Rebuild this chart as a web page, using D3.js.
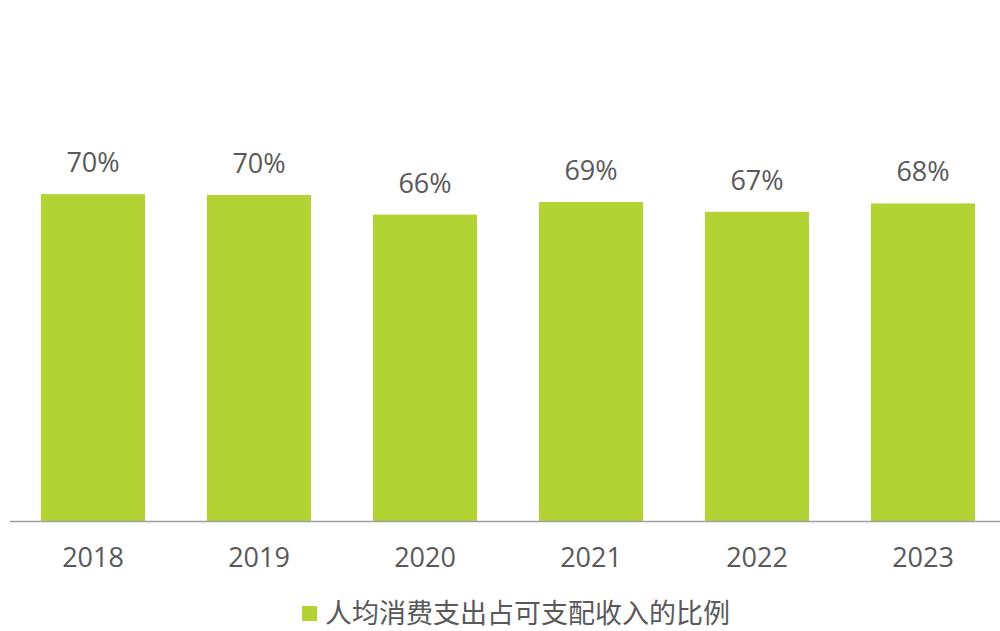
<!DOCTYPE html>
<html>
<head>
<meta charset="utf-8">
<script src="https://cdn.jsdelivr.net/npm/d3@7"></script>
<style>
  body { margin: 0; background: #fff; }
  text { font-family: "Open Sans", "Noto Sans CJK SC", sans-serif; fill: #595959; }
</style>
</head>
<body>
<div id="chart"></div>
<script>
const width = 1000;
const height = 631;

const years = ["2018", "2019", "2020", "2021", "2022", "2023"];
const ratios = [70.3, 70.1, 65.9, 68.6, 66.5, 68.3];
const seriesName = "人均消费支出占可支配收入的比例";

const barColor = "#b3d334";

const svg = d3.select("#chart")
    .append("svg")
    .attr("width", width)
    .attr("height", height);

const x = d3.scaleBand()
    .domain(years)
    .range([10, 1006])
    .paddingInner(0.373)
    .paddingOuter(0.1865);

const y = d3.scaleLinear()
    .domain([0, 80])
    .range([521, 149]);

// bars
svg.append("g")
    .selectAll("rect")
    .data(years)
    .enter()
    .append("rect")
    .attr("x", d => x(d))
    .attr("width", x.bandwidth())
    .attr("y", (d, i) => y(ratios[i]))
    .attr("height", (d, i) => y(0) - y(ratios[i]))
    .style("fill", barColor);

// value labels
svg.append("g")
    .selectAll("text")
    .data(years)
    .enter()
    .append("text")
    .attr("x", d => x(d) + x.bandwidth() / 2)
    .attr("y", (d, i) => y(ratios[i]) - 22)
    .attr("text-anchor", "middle")
    .style("font-size", "27px")
    .text((d, i) => Math.round(ratios[i]) + "%");

// x axis
const xAxis = svg.append("g")
    .attr("transform", `translate(0, ${y(0)})`)
    .call(d3.axisBottom(x).tickSize(0).tickPadding(27));

xAxis.select(".domain")
    .attr("d", "M10,0.5H1000")
    .style("stroke", "#a0a0a0")
    .style("stroke-width", 1.5);

xAxis.selectAll("text")
    .attr("dy", "0.71em")
    .style("font-size", "27px")
    .style("fill", "#595959")
    .style("font-family", "'Open Sans', sans-serif");

// legend
const legend = svg.append("g")
    .attr("transform", "translate(302, 606)");

legend.append("rect")
    .attr("width", 15)
    .attr("height", 15)
    .style("fill", barColor);

legend.append("text")
    .attr("x", 23)
    .attr("y", 7.5)
    .attr("dy", "0.36em")
    .style("font-size", "27px")
    .style("font-family", "'Noto Sans CJK SC', sans-serif")
    .text(seriesName);
</script>
</body>
</html>
